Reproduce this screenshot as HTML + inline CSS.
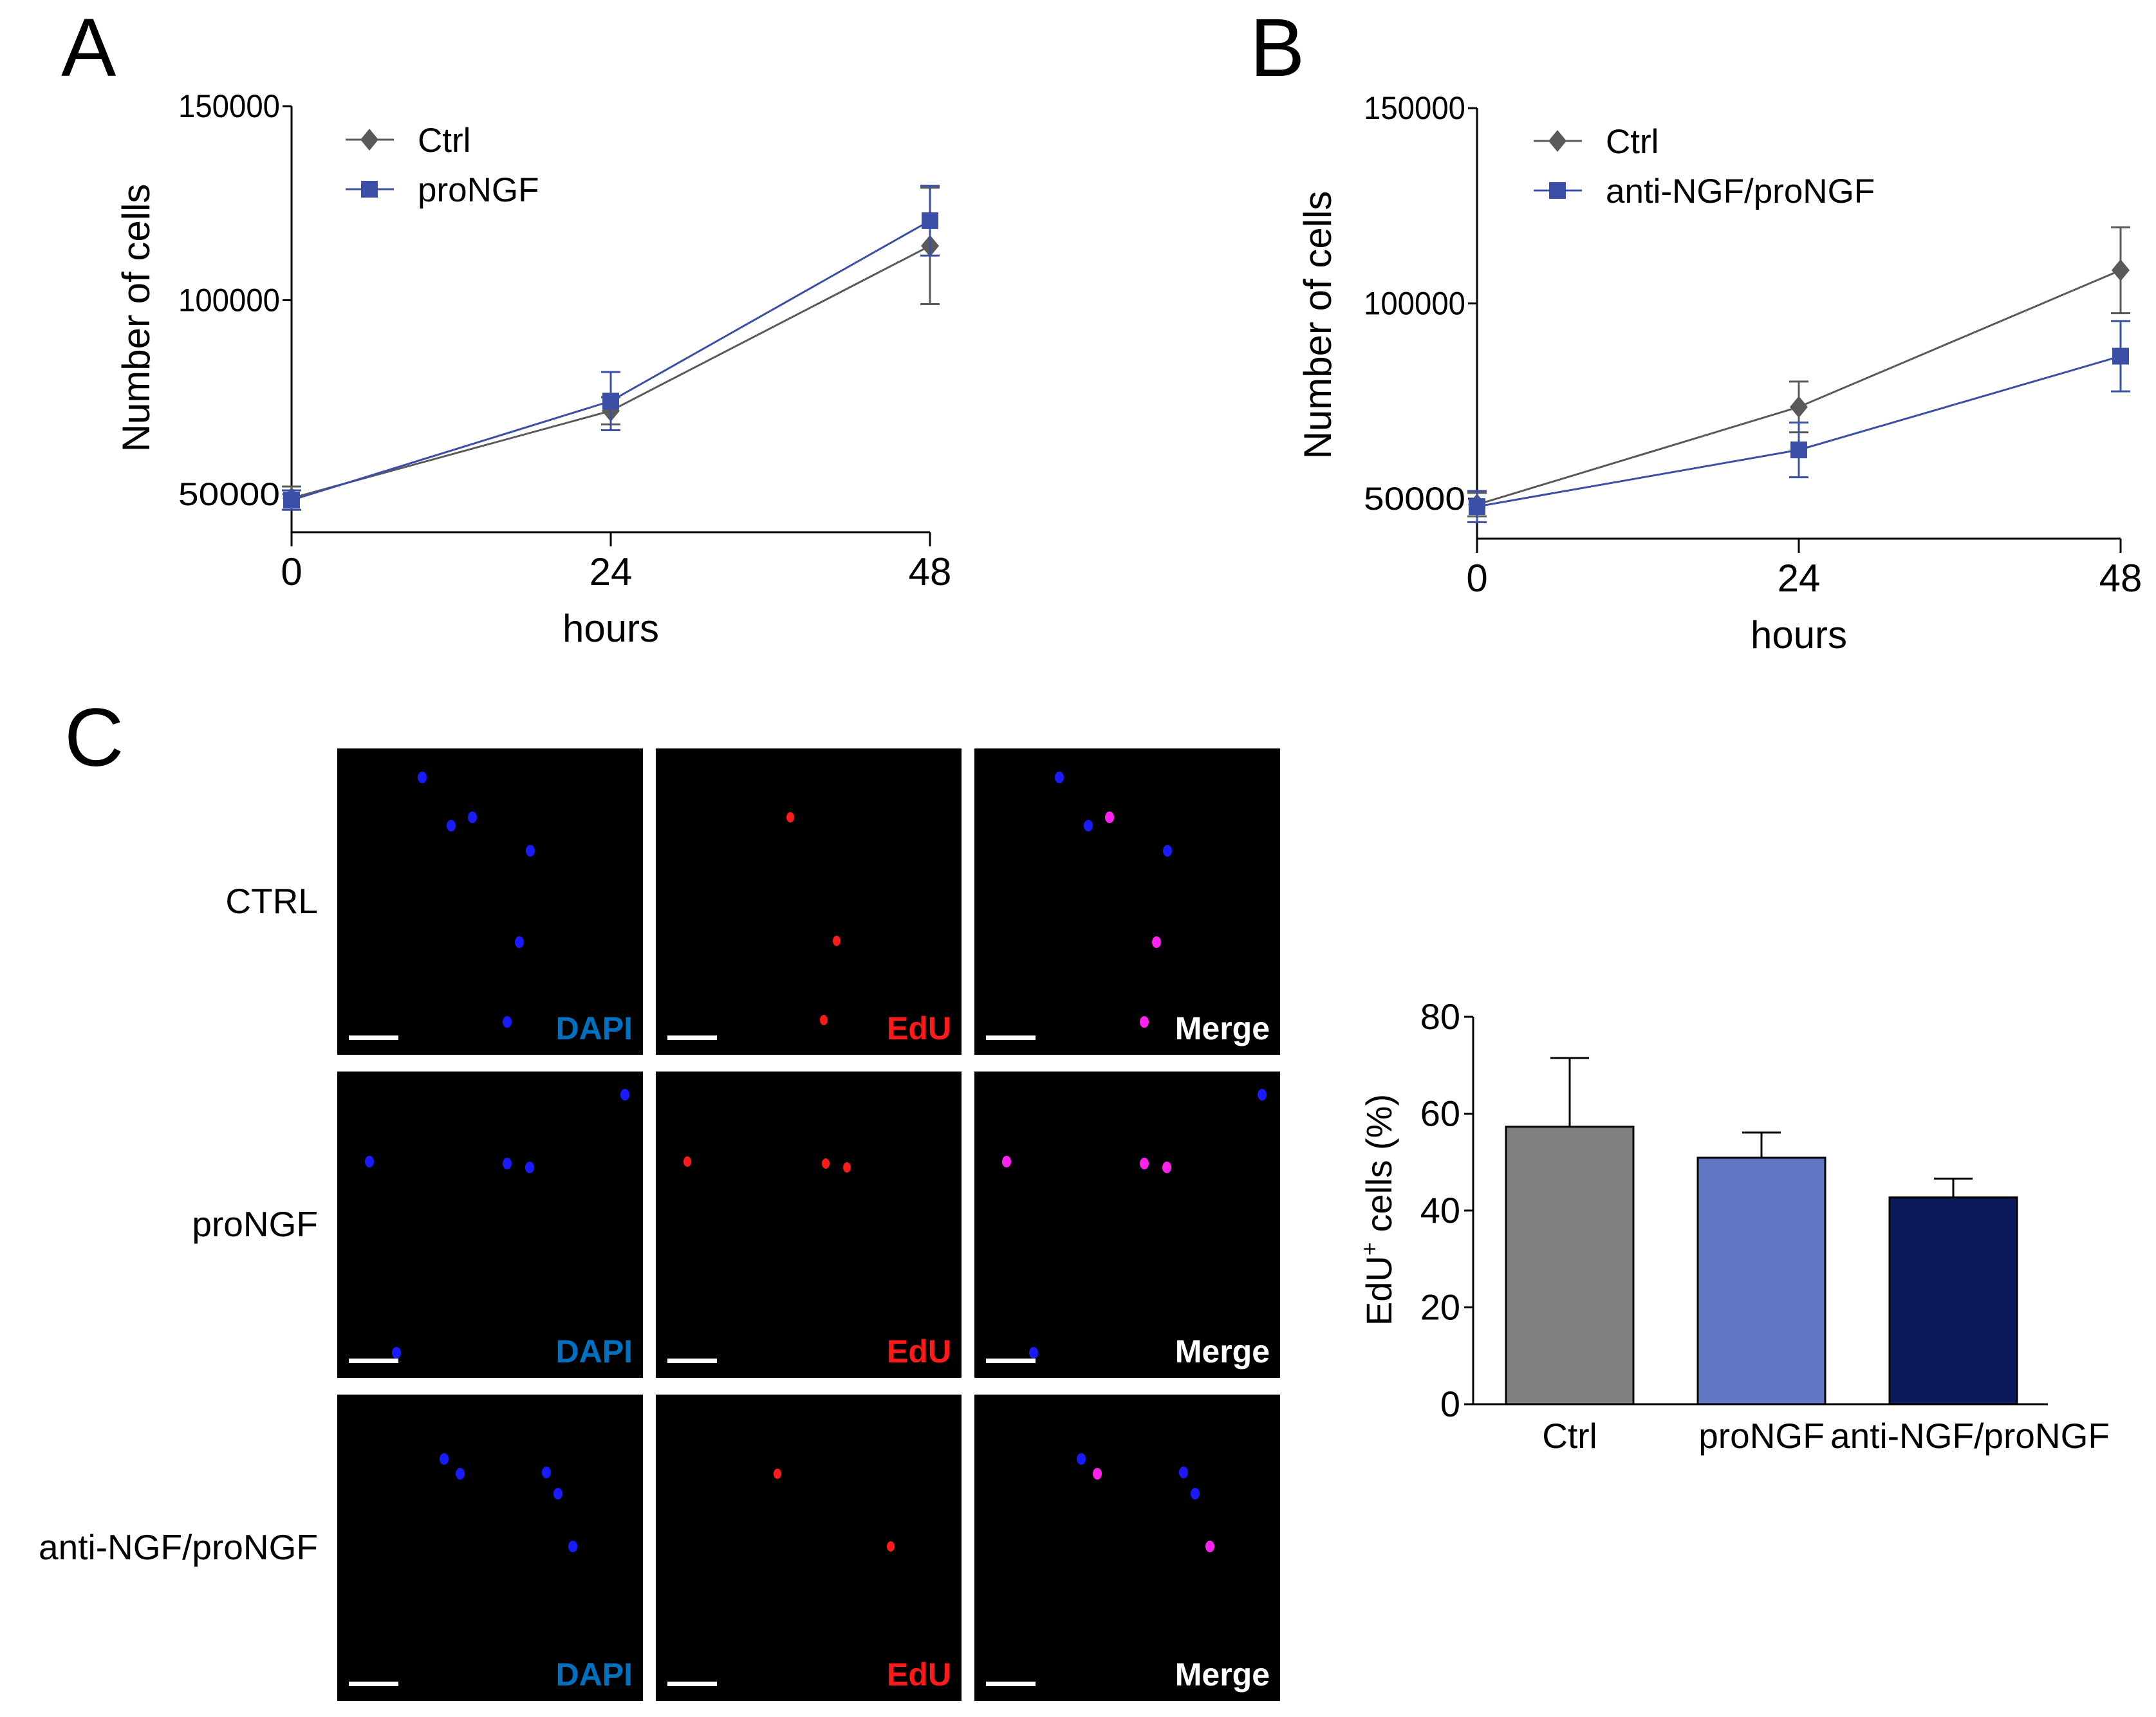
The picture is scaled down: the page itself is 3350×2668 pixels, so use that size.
<!DOCTYPE html>
<html><head><meta charset="utf-8"><style>
html,body{margin:0;padding:0;background:#fff}
svg{display:block}
text{font-family:"Liberation Sans",Arial,sans-serif}
</style></head><body>
<svg id="fig" width="3350" height="2668" viewBox="0 0 3350 2668" xmlns="http://www.w3.org/2000/svg">
<rect width="3350" height="2668" fill="#fff"/>
<text x="95" y="118" font-size="128">A</text>
<text x="1942" y="118" font-size="128">B</text>
<text x="100" y="1190" font-size="128">C</text>
<g id="gA"></g>
<g id="gB"></g>
<g id="gC"></g>
<g id="gD"></g>
</svg>
<script>
// Panel A data
const hours = [0, 24, 48];
const xTicks = ["0", "24", "48"];
const yTicksLine = [50000, 100000, 150000];
const aCtrl = [49000, 71500, 114000];
const aCtrlErr = [3000, 3500, 15000];
const aPro = [48500, 74000, 120500];
const aProErr = [2500, 7500, 9000];
// Panel B data
const bCtrl = [48500, 73500, 108500];
const bCtrlErr = [3000, 6500, 11000];
const bAnti = [48000, 62500, 86500];
const bAntiErr = [4000, 7000, 9000];
// Bar chart data
const barCats = ["Ctrl", "proNGF", "anti-NGF/proNGF"];
const barVals = [57.3, 50.9, 42.7];
const barErr = [14.2, 5.2, 3.9];
const barTicks = [0, 20, 40, 60, 80];

const NS = "http://www.w3.org/2000/svg";
function mk(tag, attrs, parent, txt) {
  const e = document.createElementNS(NS, tag);
  for (const k in attrs) e.setAttribute(k, attrs[k]);
  if (txt !== undefined) e.textContent = txt;
  parent.appendChild(e);
  return e;
}

function lineChart(g, cfg) {
  const sx = v => cfg.x0 + (v - 0) / 48 * (cfg.x1 - cfg.x0);
  const sy = v => cfg.y50 - (v - 50000) / 100000 * (cfg.y50 - cfg.y150);
  const ax = mk("path", {d:`M${cfg.x0},${cfg.y150} V${cfg.xAxisY} H${cfg.x1}`, stroke:"#000", "stroke-width":3, fill:"none"}, g);
  
  
  yTicksLine.forEach(v => {
    const t = mk("line", {x1:cfg.x0-14, x2:cfg.x0, y1:sy(v), y2:sy(v), stroke:"#000", "stroke-width":3}, g);
    
    
    const l = mk("text", {x:cfg.x0-18, y:sy(v)+17, "font-size":50, "text-anchor":"end", textLength:158, lengthAdjust:"spacingAndGlyphs"}, g, String(v));
    
    
  });
  hours.forEach((h, i) => {
    const t = mk("line", {x1:sx(h), x2:sx(h), y1:cfg.xAxisY, y2:cfg.xAxisY+22, stroke:"#000", "stroke-width":3}, g);
    
    
    const l = mk("text", {x:sx(h), y:cfg.xAxisY+82, "font-size":60, "text-anchor":"middle"}, g, xTicks[i]);
    
    
  });
  const xt = mk("text", {x:(cfg.x0+cfg.x1)/2, y:cfg.xAxisY+170, "font-size":60, "text-anchor":"middle"}, g, "hours");
  
  
  const yt = mk("text", {x:0, y:0, "font-size":60, "text-anchor":"middle", transform:`translate(${cfg.ytx},${cfg.yty}) rotate(-90)`}, g, "Number of cells");
  
  
  cfg.series.forEach((s, si) => {
    const pts = hours.map((h, i) => [sx(h), sy(s.vals[i])]);
    const p = mk("polyline", {points:pts.map(p=>p.join(",")).join(" "), stroke:s.color, "stroke-width":3, fill:"none"}, g);
    
    
    hours.forEach((h, i) => {
      const x = sx(h), yh = sy(s.vals[i] + s.err[i]), yl = sy(s.vals[i] - s.err[i]);
      const e = mk("path", {d:`M${x-15},${yh} H${x+15} M${x},${yh} V${yl} M${x-15},${yl} H${x+15}`, stroke:s.color, "stroke-width":3, fill:"none"}, g);
      
      
      let m;
      const y = sy(s.vals[i]);
      if (s.shape === "diamond") m = mk("path", {d:`M${x},${y-17} L${x+14},${y} L${x},${y+17} L${x-14},${y} Z`, fill:s.color}, g);
      else m = mk("rect", {x:x-13, y:y-13, width:26, height:26, fill:s.color}, g);
      
      
    });
    const ly = cfg.legY + si * 77;
    const lg = mk("g", {}, g);
    
    
    mk("line", {x1:cfg.legX, x2:cfg.legX+75, y1:ly, y2:ly, stroke:s.color, "stroke-width":3}, lg);
    const mx = cfg.legX + 37;
    if (s.shape === "diamond") mk("path", {d:`M${mx},${ly-17} L${mx+14},${ly} L${mx},${ly+17} L${mx-14},${ly} Z`, fill:s.color}, lg);
    else mk("rect", {x:mx-13, y:ly-13, width:26, height:26, fill:s.color}, lg);
    mk("text", {x:cfg.legX+112, y:ly+19, "font-size":53}, lg, s.label);
  });
}

lineChart(document.getElementById("gA"), {
  x0:453, x1:1445, y150:165, y50:768, xAxisY:827, ytx:232, yty:494, legX:537, legY:217,
  series:[
    {key:"ctrl", label:"Ctrl", vals:aCtrl, err:aCtrlErr, color:"#5a5a5a", shape:"diamond"},
    {key:"prongf", label:"proNGF", vals:aPro, err:aProErr, color:"#3a4fa5", shape:"square"}
  ]
});
lineChart(document.getElementById("gB"), {
  x0:2295, x1:3295, y150:168, y50:775, xAxisY:837, ytx:2068, yty:505, legX:2383, legY:219,
  series:[
    {key:"ctrl", label:"Ctrl", vals:bCtrl, err:bCtrlErr, color:"#5a5a5a", shape:"diamond"},
    {key:"anti-ngf", label:"anti-NGF/proNGF", vals:bAnti, err:bAntiErr, color:"#3a4fa5", shape:"square"}
  ]
});

// Microscopy image grid
(function(){
  const g = document.getElementById("gC");
  const colX = [524, 1019, 1514], rowY = [1163, 1665, 2167], W = 475, H = 476;
  const rowLabels = ["CTRL", "proNGF", "anti-NGF/proNGF"];
  const chan = [["DAPI","#0070c0"],["EdU","#ff1a1a"],["Merge","#ffffff"]];
  const dapi = [
    [[132,45],[177,120],[210,107],[300,159],[283,301],[264,425]],
    [[447,36],[50,140],[264,143],[299,149],[92,437]],
    [[166,100],[191,123],[325,121],[343,154],[366,236]]
  ];
  const edu = [
    [[209,107],[281,299],[261,422]],
    [[49,140],[264,143],[297,149]],
    [[189,123],[365,236]]
  ];
  rowLabels.forEach((rl, r) => {
    const t = mk("text", {x:494, y:rowY[r]+H/2+18, "font-size":55, "text-anchor":"end"}, g, rl);
    
    
    chan.forEach((c, ci) => {
      const x0 = colX[ci], y0 = rowY[r];
      const im = mk("rect", {x:x0, y:y0, width:W, height:H, fill:"#000"}, g);
      
      
      const eduSet = edu[r];
      if (ci === 0 || ci === 2) dapi[r].forEach(p => {
        const isE = eduSet.some(q => Math.abs(q[0]-p[0])<8 && Math.abs(q[1]-p[1])<8);
        mk("ellipse", {cx:x0+p[0], cy:y0+p[1], rx:7, ry:9, fill: (ci===2 && isE) ? "#ff22ee" : "#1a1aff"}, g);
      });
      if (ci === 1) eduSet.forEach(p => mk("ellipse", {cx:x0+p[0], cy:y0+p[1], rx:6, ry:8, fill:"#ff1a1a"}, g));
      const sb = mk("rect", {x:x0+18, y:y0+H-30, width:77, height:7, fill:"#fff"}, g);
      
      
      const cl = mk("text", {x:x0+W-16, y:y0+H-24, "font-size":50, "font-weight":"bold", "text-anchor":"end", fill:c[1]}, g, c[0]);
      
      
    });
  });
})();

// Bar chart
(function(){
  const g = document.getElementById("gD");
  const x0 = 2289, xEnd = 3182, y0 = 2182, y80 = 1580;
  const sy = v => y0 - v / 80 * (y0 - y80);
  const barW = 198, step = 298, first = 2340;
  const colors = ["#808080", "#6178c4", "#0c1a5a"];
  barCats.forEach((c, i) => {
    const bx = first + i * step;
    const eb = mk("path", {d:`M${bx+barW/2},${sy(barVals[i])} V${sy(barVals[i]+barErr[i])} M${bx+barW/2-30},${sy(barVals[i]+barErr[i])} H${bx+barW/2+30}`, stroke:"#000", "stroke-width":3, fill:"none"}, g);
    
    
    const b = mk("rect", {x:bx, y:sy(barVals[i]), width:barW, height:y0 - sy(barVals[i]), fill:colors[i], stroke:"#000", "stroke-width":3}, g);
    
    
    const l = mk("text", {x:bx+barW/2 + (i===2?26:0), y:y0+68, "font-size":55, "text-anchor":"middle"}, g, c);
    
    
  });
  const ax = mk("path", {d:`M${x0},${y80} V${y0} H${xEnd}`, stroke:"#000", "stroke-width":3, fill:"none"}, g);
  
  
  barTicks.forEach(v => {
    const t = mk("line", {x1:x0-14, x2:x0, y1:sy(v), y2:sy(v), stroke:"#000", "stroke-width":3}, g);
    
    
    const l = mk("text", {x:x0-20, y:sy(v)+19, "font-size":56, "text-anchor":"end"}, g, String(v));
    
    
  });
  const yt = mk("text", {x:0, y:0, "font-size":56, "text-anchor":"middle", transform:"translate(2162,1880) rotate(-90)"}, g);
  
  
  mk("tspan", {}, yt, "EdU");
  mk("tspan", {"font-size":36, dy:-22}, yt, "+");
  mk("tspan", {dy:22}, yt, " cells (%)");
})();
</script>
</body></html>
